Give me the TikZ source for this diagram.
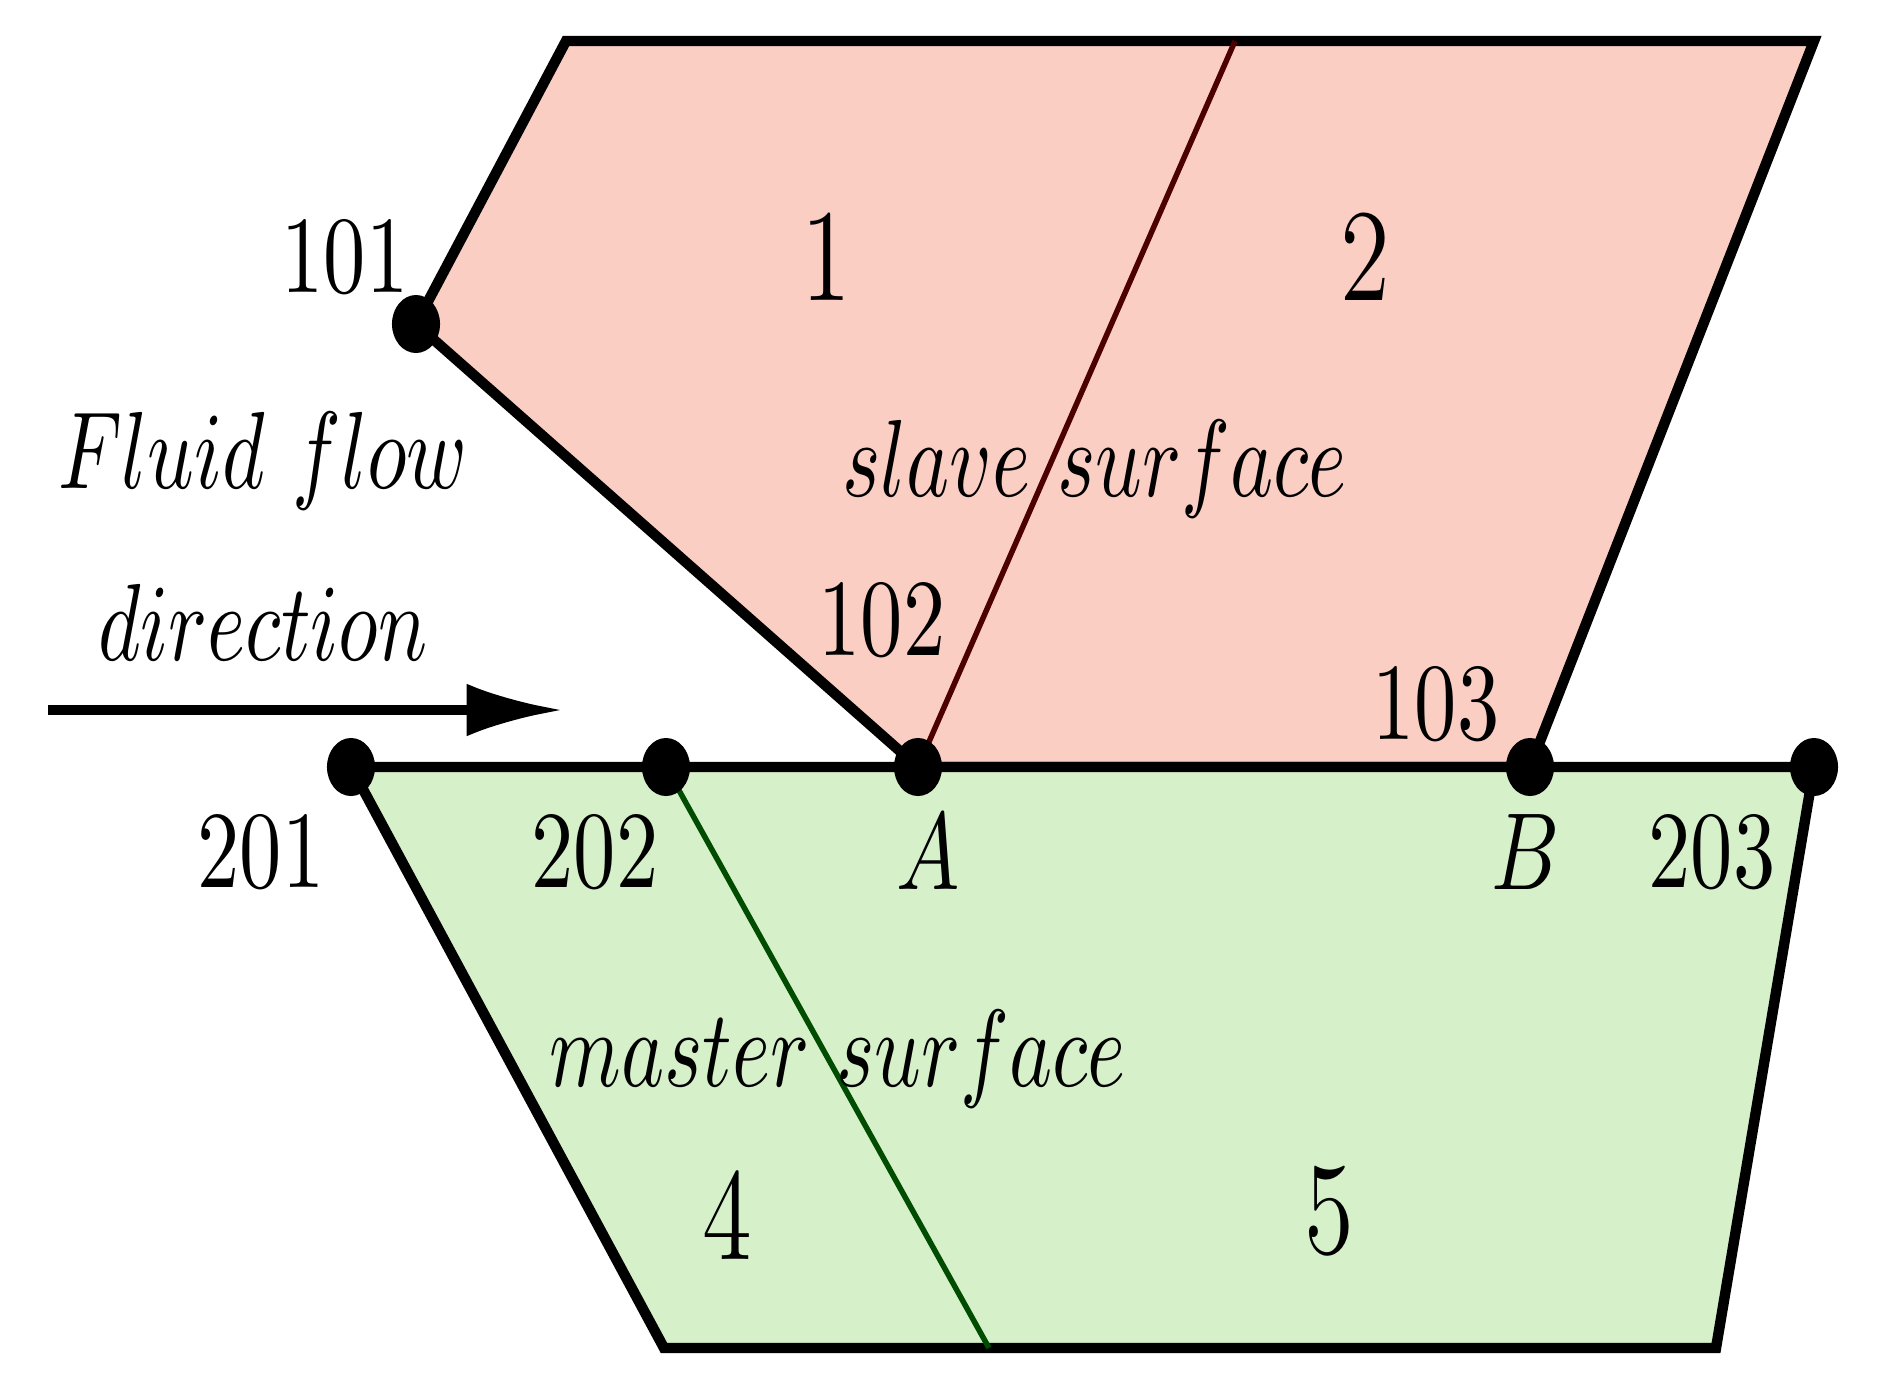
\documentclass[tikz,border=0pt]{standalone}
\usetikzlibrary{arrows.meta}

\begin{document}
\begin{tikzpicture}[
  x=0.0032cm, y=-0.0032cm,
  % ---- styles ----
  edge/.style={draw=black, line width=0.95pt, line join=miter},
  seam/.style={line width=0.5pt},
  flowarrow/.style={line width=0.85pt, -{Latex[length=8.7pt, width=4.8pt]}},
  lbl/.style={font=\normalsize, xscale=0.77, inner sep=0pt},
  word/.style={font=\normalsize, xscale=0.745, inner sep=0pt},
  num/.style={font=\large, xscale=0.77, inner sep=0pt},
]

% ---- colour palette ----
\definecolor{Cs}{RGB}{251,206,196}   % slave surface
\definecolor{Cm}{RGB}{214,240,202}   % master surface
\colorlet{Cds}{red!30!black}         % seam 1|2
\colorlet{Cdm}{green!30!black}       % seam 4|5

\def\rx{0.077cm}   % dot x radius
\def\ry{0.093cm}   % dot y radius

\useasboundingbox (0,0) rectangle (1877,1395);

% =========================================================
% corner points
% =========================================================
\coordinate (s1)   at (566,41);
\coordinate (s2)   at (1235,41);
\coordinate (s3)   at (1814,41);
\coordinate (n101) at (416,324);
\coordinate (n102) at (918,767);
\coordinate (n103) at (1530,767);
\coordinate (n201) at (351,767);
\coordinate (n202) at (666,767);
\coordinate (n203) at (1814,767);
\coordinate (m1)   at (664,1348);
\coordinate (m2)   at (989,1348);
\coordinate (m3)   at (1716,1348);

% =========================================================
% slave surface (top)
% =========================================================
\filldraw[fill=Cs, edge] (s1) -- (s3) -- (n103) -- (n102) -- (n101) -- cycle;
\draw[seam, Cds] (s2) -- (n102);

% =========================================================
% master surface (bottom)
% =========================================================
\filldraw[fill=Cm, edge] (n201) -- (n203) -- (m3) -- (m1) -- cycle;
\draw[seam, Cdm] (n202) -- (m2);

% nodes on the surfaces
\foreach \p in {n101,n102,n103,n201,n202,n203}
  \fill (\p) ellipse [x radius=\rx, y radius=\ry];

% =========================================================
% flow direction
% =========================================================
\coordinate (fa) at (48,710);
\coordinate (fb) at (562,710);
\draw[flowarrow] (fa) -- (fb);

\node[word] (Lflow) at (263,461) {$Fluid\ flow$};
\node[word] (Ldir)  at (263,622) {$direction$};

% =========================================================
% labels
% =========================================================
\node[lbl] (L101) at (345,257) {101};
\node[lbl] (L102) at (882,620) {102};
\node[lbl] (L103) at (1436,704) {103};
\node[lbl] (L201) at (261,852) {201};
\node[lbl] (L202) at (595,852) {202};
\node[lbl] (L203) at (1712,852) {203};
\node[lbl] (LA)   at (928,852) {$A$};
\node[lbl] (LB)   at (1526,852) {$B$};

\node[num] (E1) at (826,257) {1};
\node[num] (E2) at (1365,257) {2};
\node[num] (E4) at (727,1215) {4};
\node[num] (E5) at (1329,1211) {5};

\node[word] (Lslave)  at (1095,469) {$slave\ surface$};
\node[word] (Lmaster) at (838,1059) {$master\ surface$};

\end{tikzpicture}
\end{document}
